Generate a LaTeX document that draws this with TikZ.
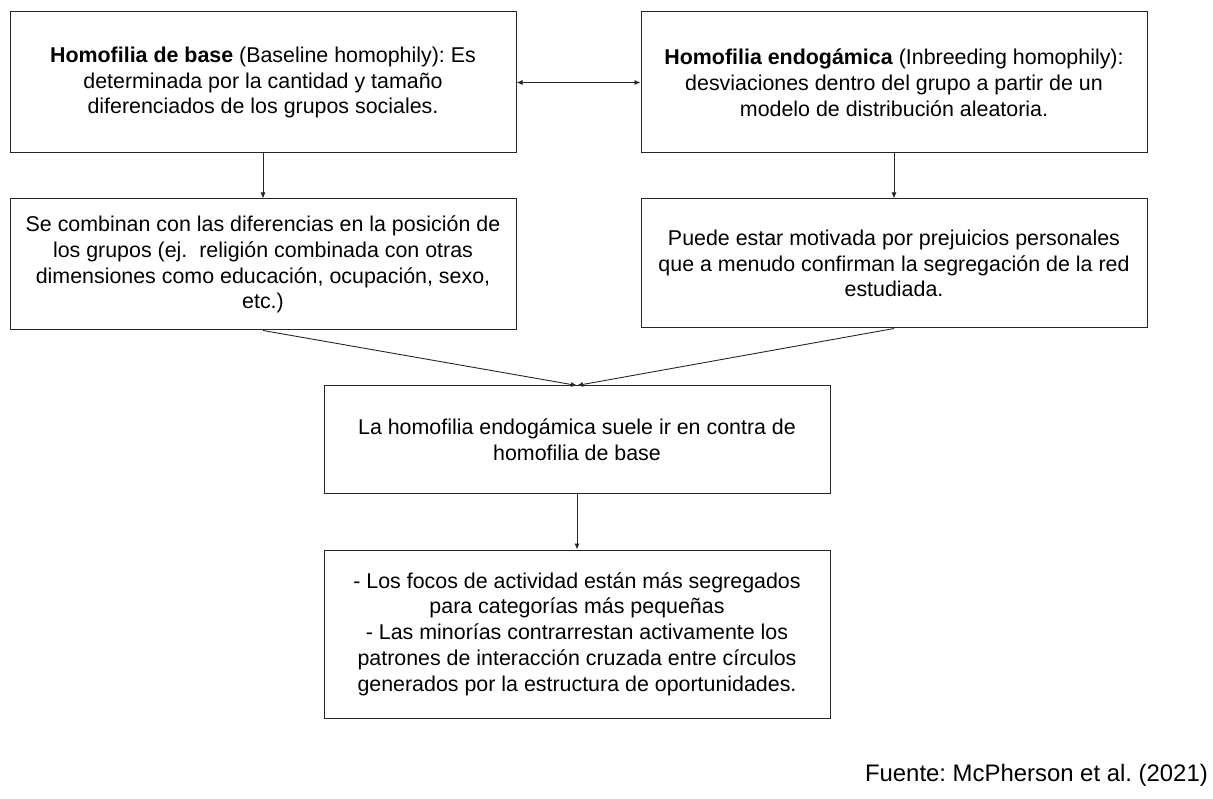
\documentclass[tikz,border=0pt]{standalone}
\usepackage{fontspec}
\setmainfont{Liberation Sans}
\frenchspacing
\usetikzlibrary{arrows.meta}
\begin{document}
\begin{tikzpicture}[x=1pt,y=-1pt,
  box/.style={draw=black!85, line width=1pt, minimum width=506pt, align=center, inner sep=0pt,
    font=\fontsize{21.4}{25.8}\selectfont},
  conn/.style={draw=black!85, line width=0.9pt, -{Latex[length=6pt,width=5pt]}},
  dconn/.style={draw=black!85, line width=0.9pt, {Latex[length=6pt,width=5pt]}-{Latex[length=6pt,width=5pt]}}]
\useasboundingbox (0,0) rectangle (1213,799);
\node[box, minimum height=141pt] (A) at (263,82.5) {\textbf{Homofilia de base} (Baseline homophily): Es\\determinada por la cantidad y tamaño\\diferenciados de los grupos sociales.};
\node[box, minimum height=141pt] (B) at (894,82.5) {\textbf{Homofilia endogámica} (Inbreeding homophily):\\desviaciones dentro del grupo a partir de un\\modelo de distribución aleatoria.};
\node[box, minimum height=131pt] (C) at (263,264.5) {Se combinan con las diferencias en la posición de\\los grupos (ej.\ \ religión combinada con otras\\dimensiones como educación, ocupación, sexo,\\etc.)};
\node[box, minimum height=129pt] (D) at (894,263.5) {Puede estar motivada por prejuicios personales\\que a menudo confirman la segregación de la red\\estudiada.};
\node[box, minimum height=107pt] (E) at (577,439.5) {La homofilia endogámica suele ir en contra de\\homofilia de base};
\node[box, minimum height=168pt] (F) at (577,634) {- Los focos de actividad están más segregados\\para categorías más pequeñas\\- Las minorías contrarrestan activamente los\\patrones de interacción cruzada entre círculos\\generados por la estructura de oportunidades.};
\node[anchor=east, inner sep=0pt, font=\fontsize{23.9}{28}\selectfont] (src) at (1208,775) {Fuente: McPherson et al. (2021)};
\draw[dconn] (A.east) -- (B.west);
\draw[conn] (A.south) -- (C.north);
\draw[conn] (B.south) -- (D.north);
\draw[conn] (C.south) -- (E.north);
\draw[conn] (D.south) -- (E.north);
\draw[conn] (E.south) -- (F.north);
\end{tikzpicture}
\end{document}
